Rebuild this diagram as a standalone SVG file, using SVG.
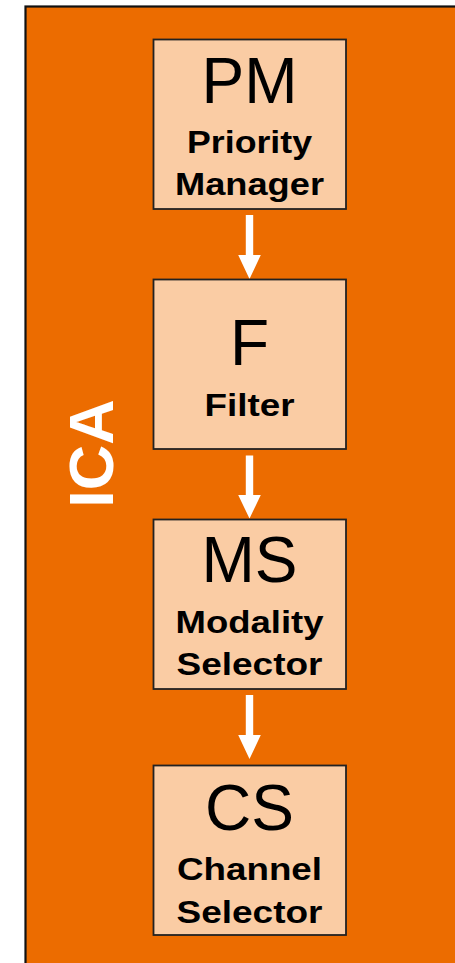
<svg xmlns="http://www.w3.org/2000/svg" width="455" height="963" viewBox="0 0 455 963">
  <style>
    .frame { fill: #EC6C00; stroke: #111; stroke-width: 2.2; }
    .box { fill: #FACCA4; stroke: #222; stroke-width: 1.8; }
    .abbr { font-family: "Liberation Sans", Arial, sans-serif; font-size: 64px; fill: #000; text-anchor: middle; }
    .name { font-family: "Liberation Sans", Arial, sans-serif; font-size: 32px; font-weight: bold; fill: #000; text-anchor: middle; }
    .side { font-family: "Liberation Sans", Arial, sans-serif; font-size: 63px; font-weight: bold; fill: #fff; text-anchor: middle; }
    .arrow { fill: #fff; }
  </style>

  <rect width="455" height="963" fill="#fff"/>

  <!-- ICA container -->
  <g id="ica">
    <rect class="frame" x="25.5" y="6.5" width="460" height="990"/>
    <text class="side" transform="translate(112.5,453.5) rotate(-90)">ICA</text>
  </g>

  <!-- flow arrows between stages -->
  <g id="connectors">
    <polygon class="arrow" points="245.8,215 253.2,215 253.2,255 260.8,255 249.5,279 238.2,255 245.8,255"/>
    <polygon class="arrow" points="245.8,455.5 253.2,455.5 253.2,495 260.8,495 249.5,518.5 238.2,495 245.8,495"/>
    <polygon class="arrow" points="245.8,695 253.2,695 253.2,735 260.8,735 249.5,759 238.2,735 245.8,735"/>
  </g>

  <g id="pm">
    <rect class="box" x="153.5" y="39.5" width="192.5" height="169.5"/>
    <text class="abbr" x="249.5" y="103">PM</text>
    <text class="name" x="249.5" y="153" textLength="125" lengthAdjust="spacingAndGlyphs">Priority</text>
    <text class="name" x="249.5" y="195" textLength="149" lengthAdjust="spacingAndGlyphs">Manager</text>
  </g>

  <g id="f">
    <rect class="box" x="153.5" y="279.5" width="192.5" height="169.5"/>
    <text class="abbr" x="249.5" y="365">F</text>
    <text class="name" x="249.5" y="416" textLength="90" lengthAdjust="spacingAndGlyphs">Filter</text>
  </g>

  <g id="ms">
    <rect class="box" x="153.5" y="519.5" width="192.5" height="169.5"/>
    <text class="abbr" x="249.5" y="582">MS</text>
    <text class="name" x="249.5" y="632.5" textLength="148" lengthAdjust="spacingAndGlyphs">Modality</text>
    <text class="name" x="249.5" y="675" textLength="146" lengthAdjust="spacingAndGlyphs">Selector</text>
  </g>

  <g id="cs">
    <rect class="box" x="153.5" y="765.5" width="192.5" height="169.5"/>
    <text class="abbr" x="249.5" y="830">CS</text>
    <text class="name" x="249.5" y="880" textLength="145" lengthAdjust="spacingAndGlyphs">Channel</text>
    <text class="name" x="249.5" y="923" textLength="146" lengthAdjust="spacingAndGlyphs">Selector</text>
  </g>
</svg>
